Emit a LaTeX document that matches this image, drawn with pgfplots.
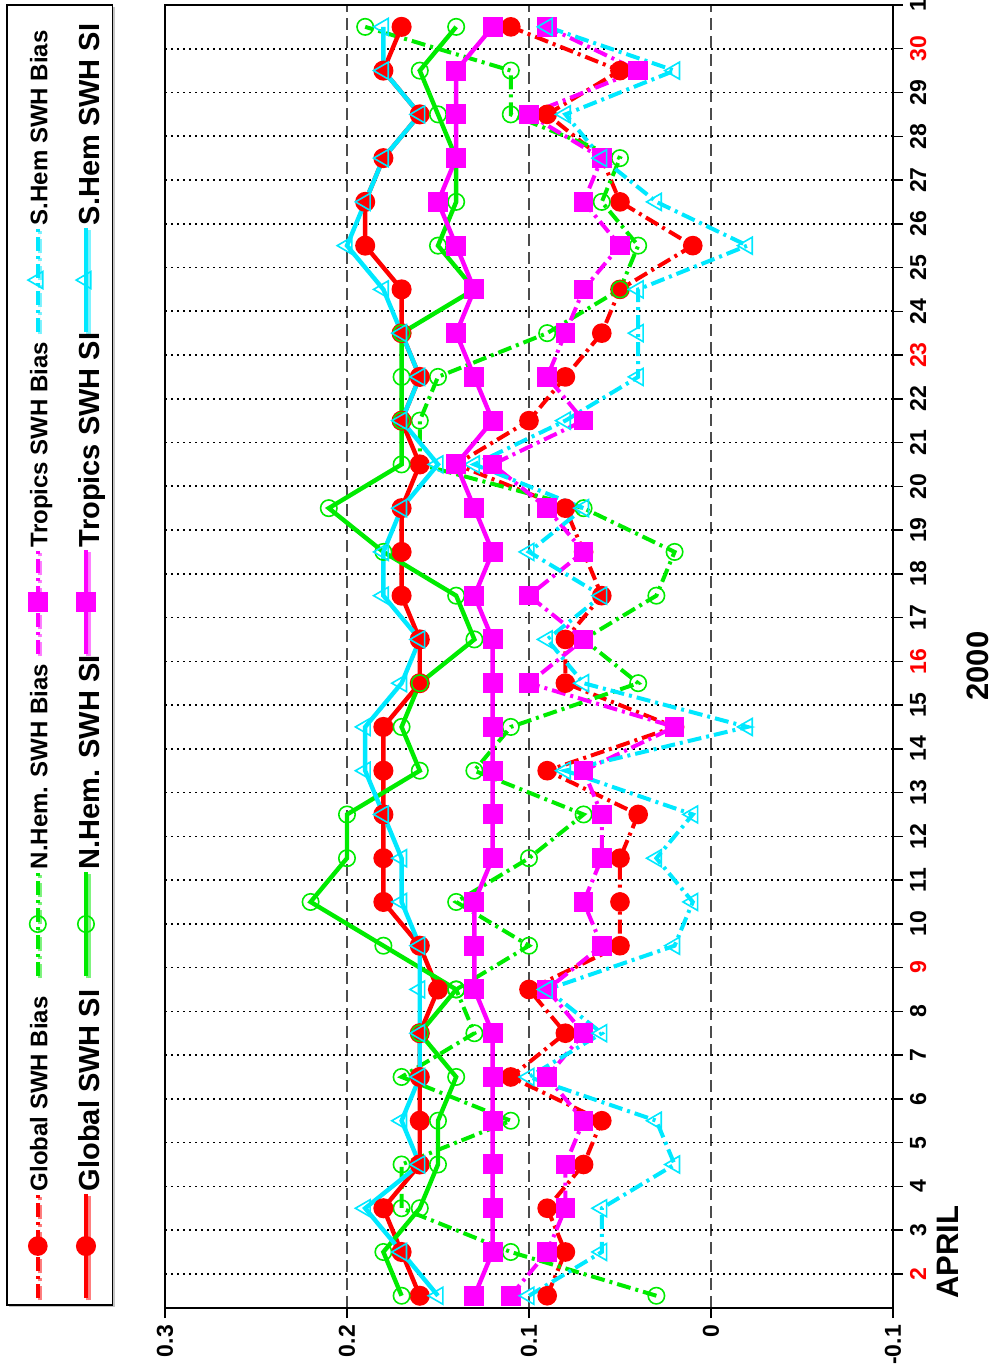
\documentclass[border=0pt]{standalone}
\usepackage{graphicx}
\usepackage{pgfplots}
\pgfplotsset{compat=1.18}
\usepackage{pgfplotstable}
\usetikzlibrary{shadows}
\usepackage{fontspec}
\setmainfont{Liberation Sans}

\definecolor{cRed}{RGB}{255,0,0}
\definecolor{cGreen}{RGB}{0,235,0}
\definecolor{cMag}{RGB}{255,0,255}
\definecolor{cCyan}{RGB}{0,232,255}

% Daily SWH statistics, April 2000 (values at mid-day)
% gb/gs: global bias/SI, nb/ns: N.Hem., tb/ts: tropics, sb/ss: S.Hem.
\pgfplotstableread{
day  gb    gs    nb    ns    tb    ts    sb     ss
1.5  0.09  0.16  0.03  0.17  0.11  0.13  0.10   0.15
2.5  0.08  0.17  0.11  0.18  0.09  0.12  0.06   0.17
3.5  0.09  0.18  0.17  0.16  0.08  0.12  0.06   0.19
4.5  0.07  0.16  0.17  0.15  0.08  0.12  0.02   0.16
5.5  0.06  0.16  0.11  0.15  0.07  0.12  0.03   0.17
6.5  0.11  0.16  0.17  0.14  0.09  0.12  0.10   0.16
7.5  0.08  0.16  0.13  0.16  0.07  0.12  0.06   0.16
8.5  0.10  0.15  0.14  0.14  0.09  0.13  0.09   0.16
9.5  0.05  0.16  0.10  0.18  0.06  0.13  0.02   0.16
10.5 0.05  0.18  0.14  0.22  0.07  0.13  0.01   0.17
11.5 0.05  0.18  0.10  0.20  0.06  0.12  0.03   0.17
12.5 0.04  0.18  0.07  0.20  0.06  0.12  0.01   0.18
13.5 0.09  0.18  0.13  0.16  0.07  0.12  0.08   0.19
14.5 0.02  0.18  0.11  0.17  0.02  0.12  -0.02  0.19
15.5 0.08  0.16  0.04  0.16  0.10  0.12  0.07   0.17
16.5 0.08  0.16  0.07  0.13  0.07  0.12  0.09   0.16
17.5 0.06  0.17  0.03  0.14  0.10  0.13  0.06   0.18
18.5 0.07  0.17  0.02  0.18  0.07  0.12  0.10   0.18
19.5 0.08  0.17  0.07  0.21  0.09  0.13  0.07   0.17
20.5 0.14  0.16  0.16  0.17  0.12  0.14  0.13   0.15
21.5 0.10  0.17  0.16  0.17  0.07  0.12  0.08   0.17
22.5 0.08  0.16  0.15  0.17  0.09  0.13  0.04   0.16
23.5 0.06  0.17  0.09  0.17  0.08  0.14  0.04   0.17
24.5 0.05  0.17  0.05  0.13  0.07  0.13  0.04   0.18
25.5 0.01  0.19  0.04  0.15  0.05  0.14  -0.02  0.20
26.5 0.05  0.19  0.06  0.14  0.07  0.15  0.03   0.19
27.5 0.06  0.18  0.05  0.14  0.06  0.14  0.06   0.18
28.5 0.09  0.16  0.11  0.15  0.10  0.14  0.08   0.16
29.5 0.05  0.18  0.11  0.16  0.04  0.14  0.02   0.18
30.5 0.11  0.17  0.19  0.14  0.09  0.12  0.09   0.18
}\swh

\pgfplotsset{
  biasline/.style={line width=2pt, dash pattern=on 7pt off 2.5pt on 1.5pt off 2.5pt},
  siline/.style={line width=2.2pt, solid},
  gmark/.style={mark=*, mark size=3.9pt, mark options={solid, fill=cRed}},
  nmark/.style={mark=o, mark size=4.1pt, mark options={solid, line width=0.8pt}},
  tmark/.style={mark=square*, mark size=3.9pt, mark options={solid, fill=cMag}},
  smark/.style={mark=triangle, mark size=4.9pt, mark options={solid, rotate=90, line width=0.8pt}},
}

% legend text set upright-rotated, with room left below it for the sample line
\newcommand{\legtxt}[2]{\rotatebox{90}{\makebox[161pt][l]{\hspace*{54pt}\fontsize{#1}{#1}\selectfont\vphantom{Hp}#2}}}

\begin{document}
\begin{tikzpicture}
\path[use as bounding box] (-82.5pt,-32pt) rectangle (414pt,654pt);
\begin{axis}[
  scale only axis, width=364pt, height=651.5pt,
  at={(0,0)}, anchor=south west,
  x dir=reverse, xmin=-0.1, xmax=0.3,
  ymin=1.22, ymax=31,
  xtick={-0.1,0,0.1,0.2,0.3},
  xticklabels={-0.1,0,0.1,0.2,0.3},
  ytick={2,...,31},
  yticklabels={\textcolor{cRed}{2},3,4,5,6,7,8,\textcolor{cRed}{9},10,11,12,13,14,15,\textcolor{cRed}{16},17,18,19,20,21,22,\textcolor{cRed}{23},24,25,26,27,28,29,\textcolor{cRed}{30},1},
  xtick pos=left, ytick pos=right, yticklabel pos=right,
  tick align=outside, major tick length=5pt,
  tick style={black, line width=0.75pt},
  axis line style={line width=0.75pt},
  grid=major,
  x grid style={black!70, line width=0.8pt, dash pattern=on 6pt off 3pt},
  y grid style={black, line width=0.8pt, dash pattern=on 1pt off 2pt},
  xticklabel style={rotate=90, anchor=east, font=\bfseries\fontsize{11.5}{12}\selectfont},
  yticklabel style={rotate=90, anchor=north, font=\bfseries\fontsize{11.5}{12}\selectfont},
  xlabel={APRIL},
  every axis x label/.style={at={(axis description cs:1.0755,0.043)}, rotate=90, anchor=center, inner sep=0pt, text depth=0pt, font=\bfseries\fontsize{15.5}{16}\selectfont},
  ylabel={2000},
  every axis y label/.style={at={(axis description cs:1.116,0.4927)}, rotate=90, anchor=center, inner sep=0pt, text depth=0pt, font=\bfseries\fontsize{15.5}{16}\selectfont},
  legend columns=2,
  legend image code/.code={%
    \path (-6pt,0pt) (0pt,0pt);
    \begin{scope}[overlay]
      \draw[mark repeat=2,mark phase=2,#1] plot coordinates {(4.9pt,-80pt) (4.9pt,-54pt) (4.9pt,-28pt)};
    \end{scope}},
  legend style={at={(axis description cs:-0.0714,0.5011)}, anchor=east,
    draw=black, line width=0.6pt, fill=white, font=\bfseries,
    drop shadow={shadow xshift=1.2pt, shadow yshift=-1.2pt, fill=black!45},
    inner xsep=3.5pt, inner ysep=3pt, row sep=0pt,
    nodes={inner sep=0pt, text depth=0pt},
    /tikz/every even column/.append style={column sep=4.8pt}},
]
% bias curves (dash-dot), then scatter index curves (solid)
\addplot[forget plot, biasline, cRed, gmark]   table[x=gb, y=day] {\swh};
\addplot[forget plot, biasline, cGreen, nmark] table[x=nb, y=day] {\swh};
\addplot[forget plot, biasline, cMag, tmark]   table[x=tb, y=day] {\swh};
\addplot[forget plot, biasline, cCyan, smark]  table[x=sb, y=day] {\swh};
\addplot[forget plot, siline, cRed, gmark]     table[x=gs, y=day] {\swh};
\addplot[forget plot, siline, cGreen, nmark]   table[x=ns, y=day] {\swh};
\addplot[forget plot, siline, cMag, tmark]     table[x=ts, y=day] {\swh};
\addplot[forget plot, siline, cCyan, smark]    table[x=ss, y=day] {\swh};

% legend: one row per region, bias beside SI
\addlegendimage{biasline, cCyan, smark}
\addlegendentry{\legtxt{12}{S.Hem SWH Bias}}
\addlegendimage{siline, cCyan, smark}
\addlegendentry{\legtxt{14.5}{S.Hem SWH SI}}
\addlegendimage{biasline, cMag, tmark}
\addlegendentry{\legtxt{12}{Tropics SWH Bias}}
\addlegendimage{siline, cMag, tmark}
\addlegendentry{\legtxt{14.5}{Tropics SWH SI}}
\addlegendimage{biasline, cGreen, nmark}
\addlegendentry{\legtxt{12}{N.Hem. SWH Bias}}
\addlegendimage{siline, cGreen, nmark}
\addlegendentry{\legtxt{14.5}{N.Hem. SWH SI}}
\addlegendimage{biasline, cRed, gmark}
\addlegendentry{\legtxt{12}{Global SWH Bias}}
\addlegendimage{siline, cRed, gmark}
\addlegendentry{\legtxt{14.5}{Global SWH SI}}
\end{axis}
\end{tikzpicture}
\end{document}
